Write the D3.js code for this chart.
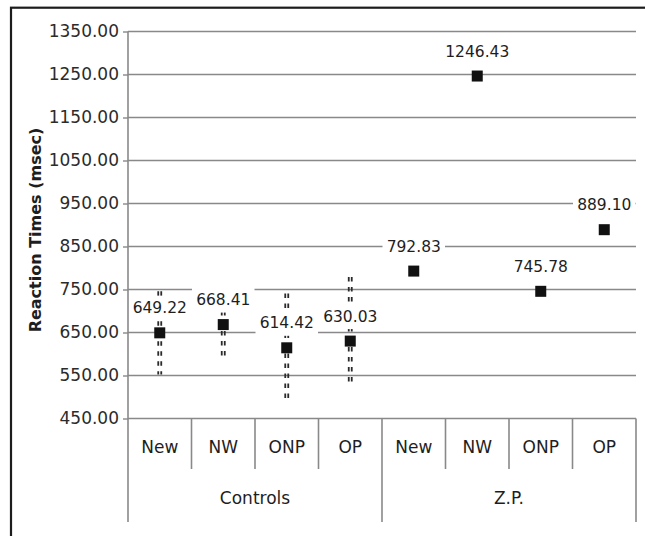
<!DOCTYPE html>
<html>
<head>
<meta charset="utf-8">
<script src="https://cdn.jsdelivr.net/npm/d3@7"></script>
<style>
  body { margin: 0; background: #fff; }
  svg { display: block; }
</style>
</head>
<body>
<svg id="chart" width="645" height="536"></svg>
<script>
// Mean reaction times per condition, for each group
const groups = ["Controls", "Z.P."];
const conditions = ["New", "NW", "ONP", "OP"];
const controlsRT = [649.22, 668.41, 614.42, 630.03];
const zpRT = [792.83, 1246.43, 745.78, 889.10];
// Error bar extents (msec) above and below the Controls means
const controlsErrUp = [97, 78, 126, 149];
const controlsErrDown = [97, 78, 121, 102];
const yTicks = [450, 550, 650, 750, 850, 950, 1050, 1150, 1250, 1350];

const rows = [];
groups.forEach((g, gi) => {
  conditions.forEach((c, ci) => {
    const isCtrl = gi === 0;
    rows.push({
      key: g + "|" + c,
      group: g,
      cond: c,
      value: isCtrl ? controlsRT[ci] : zpRT[ci],
      up: isCtrl ? controlsErrUp[ci] : 0,
      down: isCtrl ? controlsErrDown[ci] : 0
    });
  });
});

const svg = d3.select("#chart");
const plotLeft = 128, plotRight = 636, plotTop = 31.5, plotBottom = 418.5;
const subBottom = 469, groupBottom = 522;
const font = "'DejaVu Sans', sans-serif";
const gridColor = "#898989";

const x = d3.scaleBand().domain(rows.map(d => d.key)).range([plotLeft, plotRight]).padding(0);
const y = d3.scaleLinear().domain([450, 1350]).range([plotBottom, plotTop]);
const bw = x.bandwidth();

// outer frame
svg.append("rect")
  .attr("x", 11).attr("y", 7.7).attr("width", 700).attr("height", 600)
  .attr("fill", "none").attr("stroke", "#1c1c1c").attr("stroke-width", 2.2);

// horizontal gridlines
svg.append("g").selectAll("line").data(yTicks).join("line")
  .attr("x1", plotLeft).attr("x2", plotRight)
  .attr("y1", d => y(d)).attr("y2", d => y(d))
  .attr("stroke", gridColor).attr("stroke-width", 1.4);

// error bars: double dotted strokes
const eb = svg.append("g");
rows.filter(d => d.up > 0 || d.down > 0).forEach(d => {
  const cx = x(d.key) + bw / 2;
  [-1.5, 1.5].forEach(off => {
    eb.append("line")
      .attr("x1", cx + off).attr("x2", cx + off)
      .attr("y1", y(d.value + d.up)).attr("y2", y(d.value - d.down))
      .attr("stroke", "#2a2a2a").attr("stroke-width", 1.8)
      .attr("stroke-dasharray", "4.5,5.5");
  });
});

// data label boxes and values
const labelOffset = 24.5;
svg.append("g").selectAll("rect").data(rows).join("rect")
  .attr("x", d => x(d.key) + 0.5).attr("width", bw - 1)
  .attr("y", d => y(d.value) - labelOffset - 12.5).attr("height", 25)
  .attr("fill", "#fff");

svg.append("g").selectAll("text").data(rows).join("text")
  .attr("x", d => x(d.key) + bw / 2)
  .attr("y", d => y(d.value) - labelOffset)
  .attr("text-anchor", "middle").attr("dominant-baseline", "central")
  .attr("font-family", font).attr("font-size", 15.5).attr("fill", "#1e1e1e")
  .text(d => d3.format(".2f")(d.value));

// markers
const ms = 11;
svg.append("g").selectAll("rect").data(rows).join("rect")
  .attr("x", d => x(d.key) + bw / 2 - ms / 2)
  .attr("y", d => y(d.value) - ms / 2)
  .attr("width", ms).attr("height", ms)
  .attr("fill", "#111");

// value axis
const yAxis = svg.append("g").attr("transform", `translate(${plotLeft},0)`)
  .call(d3.axisLeft(y).tickValues(yTicks).tickSize(5).tickPadding(4).tickFormat(d3.format(".2f")));
yAxis.select(".domain").remove();
yAxis.selectAll(".tick line").attr("stroke", gridColor).attr("stroke-width", 1.4);
yAxis.selectAll(".tick text")
  .attr("font-family", font).attr("font-size", 17).attr("fill", "#2b2b2b");

svg.append("line")
  .attr("x1", plotLeft).attr("x2", plotLeft).attr("y1", plotTop).attr("y2", groupBottom)
  .attr("stroke", gridColor).attr("stroke-width", 1.6);

// category axis: condition dividers and group dividers
const cat = svg.append("g");
rows.forEach((d, i) => {
  if (i === 0) return;
  const xv = x(d.key);
  const isGroupEdge = i % conditions.length === 0;
  cat.append("line")
    .attr("x1", xv).attr("x2", xv)
    .attr("y1", plotBottom).attr("y2", isGroupEdge ? groupBottom : subBottom)
    .attr("stroke", gridColor).attr("stroke-width", 1.6);
});
cat.append("line")
  .attr("x1", plotRight).attr("x2", plotRight).attr("y1", plotBottom).attr("y2", groupBottom)
  .attr("stroke", gridColor).attr("stroke-width", 1.6);

cat.selectAll("text.cond").data(rows).join("text").attr("class", "cond")
  .attr("x", d => x(d.key) + bw / 2).attr("y", 447)
  .attr("text-anchor", "middle").attr("dominant-baseline", "central")
  .attr("font-family", font).attr("font-size", 17).attr("fill", "#1e1e1e")
  .text(d => d.cond);

cat.selectAll("text.grp").data(groups).join("text").attr("class", "grp")
  .attr("x", g => {
    const ks = rows.filter(r => r.group === g).map(r => x(r.key));
    return (d3.min(ks) + d3.max(ks) + bw) / 2;
  })
  .attr("y", 498)
  .attr("text-anchor", "middle").attr("dominant-baseline", "central")
  .attr("font-family", font).attr("font-size", 17).attr("fill", "#1e1e1e")
  .text(g => g);

// value axis title
svg.append("text")
  .attr("transform", "translate(35,230) rotate(-90)")
  .attr("text-anchor", "middle").attr("dominant-baseline", "central")
  .attr("font-family", font).attr("font-size", 16).attr("font-weight", "bold")
  .attr("fill", "#1e1e1e")
  .text("Reaction Times (msec)");
</script>
</body>
</html>
